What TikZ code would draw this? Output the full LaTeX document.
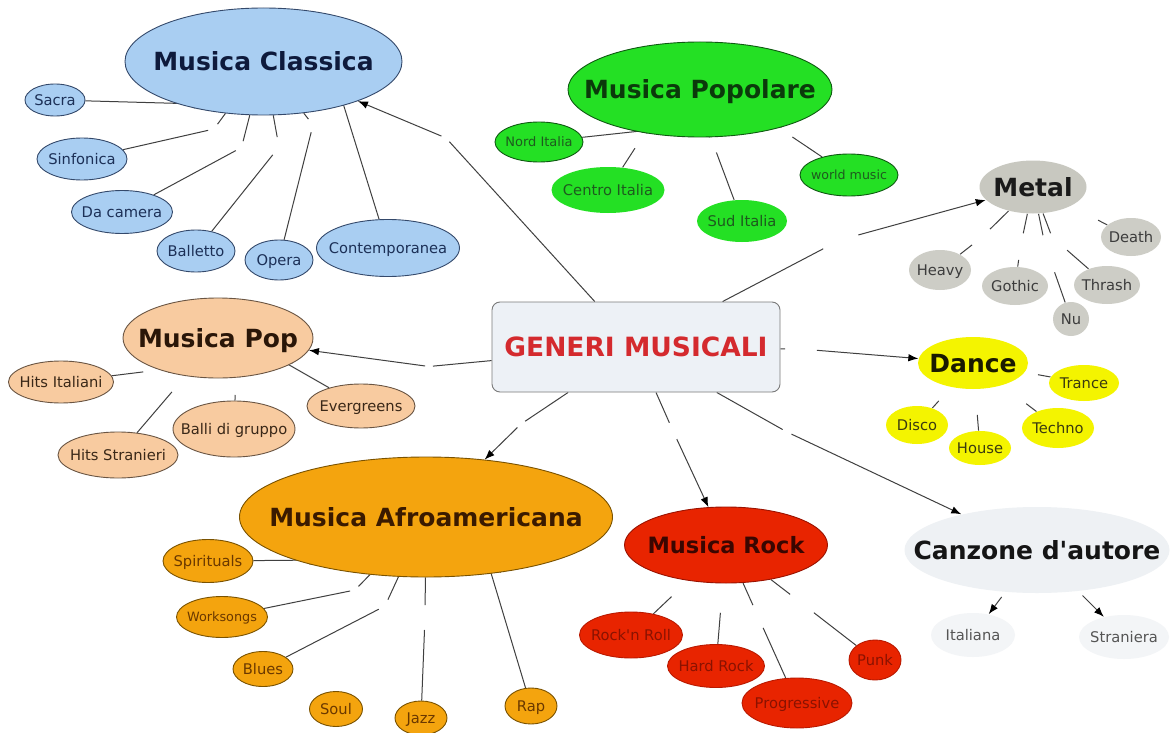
\documentclass[tikz,border=0pt]{standalone}
\usepackage{fontspec}
\setmainfont{DejaVu Sans}[Ligatures=TeXOff]
\usetikzlibrary{shapes.geometric,arrows.meta,backgrounds}

% palette
\definecolor{cBlue}{HTML}{A9CEF2}\definecolor{cBlueLine}{HTML}{34496B}
\definecolor{cBlueTxt}{HTML}{0E1A3C}\definecolor{cBlueSub}{HTML}{1C3057}
\definecolor{cGreen}{HTML}{24E024}\definecolor{cGreenLine}{HTML}{0F5A12}
\definecolor{cGreenTxt}{HTML}{0B3A0B}\definecolor{cGreenSub}{HTML}{1E5A1E}
\definecolor{cGray}{HTML}{C8C8C0}\definecolor{cGraySub}{HTML}{CDCDC6}
\definecolor{cGrayTxt}{HTML}{1A1A1A}\definecolor{cGraySubTxt}{HTML}{3C3C3C}
\definecolor{cYellow}{HTML}{F4F400}\definecolor{cYellowTxt}{HTML}{1A1A00}
\definecolor{cYellowSub}{HTML}{3A3A10}
\definecolor{cPeach}{HTML}{F8CBA0}\definecolor{cPeachLine}{HTML}{6A5543}
\definecolor{cPeachTxt}{HTML}{2A1608}\definecolor{cPeachSub}{HTML}{3A2818}
\definecolor{cOrange}{HTML}{F4A40E}\definecolor{cOrangeLine}{HTML}{7A5200}
\definecolor{cOrangeTxt}{HTML}{3A1A00}\definecolor{cOrangeSub}{HTML}{6A3800}
\definecolor{cRed}{HTML}{E82400}\definecolor{cRedLine}{HTML}{9A1200}
\definecolor{cRedTxt}{HTML}{3A0600}\definecolor{cRedSub}{HTML}{8A1200}
\definecolor{cCanz}{HTML}{EEF1F4}\definecolor{cCanzSub}{HTML}{F3F5F7}
\definecolor{cCanzTxt}{HTML}{151515}\definecolor{cCanzSubTxt}{HTML}{555555}
\definecolor{cBox}{HTML}{EDF1F6}\definecolor{cBoxLine}{HTML}{7A7A7A}
\definecolor{cBoxTxt}{HTML}{D42A2E}
\definecolor{cLink}{HTML}{404040}

% text centred on the node without enlarging it
\newcommand\ct[1]{\makebox[0pt]{\raisebox{-.36em}[0pt][0pt]{#1}}}

% link with an empty linking-phrase gap at coordinate #2
\newcommand\lk[5]{%
  \draw[link, shorten >=#4] (#1) -- (#2);
  \draw[link, shorten <=#5] (#2) -- (#3);}
% same, ending in an arrow head
\newcommand\ak[4]{%
  \draw[link, shorten >=#4] (#1) -- (#2);
  \draw[arr, shorten <=#4] (#2) -- (#3);}

\tikzset{
  sz/.style 2 args={minimum width=#1pt, minimum height=#2pt},
  concept/.style={ellipse, inner sep=0pt, line width=0.9pt},
  head/.style={concept, font=\bfseries\fontsize{25}{30}\selectfont},
  leaf/.style={concept, font=\fontsize{14.7}{17}\selectfont},
  leafB/.style={leaf, fill=cBlue, draw=cBlueLine, text=cBlueSub},
  leafG/.style={leaf, fill=cGreen, text=cGreenSub},
  leafM/.style={leaf, fill=cGraySub, text=cGraySubTxt},
  leafY/.style={leaf, fill=cYellow, text=cYellowSub},
  leafP/.style={leaf, fill=cPeach, draw=cPeachLine, text=cPeachSub},
  leafO/.style={leaf, fill=cOrange, draw=cOrangeLine, text=cOrangeSub},
  leafR/.style={leaf, fill=cRed, draw=cRedLine!60!cRed, text=cRedSub},
  leafC/.style={leaf, fill=cCanzSub, text=cCanzSubTxt},
  link/.style={draw=cLink, line width=1pt},
  arr/.style={link, -{Latex[length=10pt,width=7.5pt,color=black]}},
}

\begin{document}
\begin{tikzpicture}[x=1pt,y=-1pt]
\useasboundingbox (0,0) rectangle (1172,733);

% centre
\node[rectangle, rounded corners=8pt, inner sep=0pt, sz={288}{90}, fill=cBox, draw=cBoxLine,
      line width=0.9pt, text=cBoxTxt, font=\bfseries\fontsize{26.5}{30}\selectfont]
  (gen) at (636,347) {\ct{GENERI MUSICALI}};

% Musica Classica
\node[head, fill=cBlue, draw=cBlueLine, text=cBlueTxt, sz={277}{107}] (cl) at (263.5,61.5) {\ct{Musica Classica}};
\node[leafB, sz={60}{32}]  (sac) at (55,100)  {\ct{Sacra}};
\node[leafB, sz={90}{42}]  (sin) at (82,159)  {\ct{Sinfonica}};
\node[leafB, sz={101}{43}] (dac) at (122,212) {\ct{Da camera}};
\node[leafB, sz={78}{42}]  (bal) at (196,251) {\ct{Balletto}};
\node[leafB, sz={68}{40}]  (ope) at (279,260) {\ct{Opera}};
\node[leafB, sz={143}{57}] (con) at (388,248) {\ct{Contemporanea}};

% Musica Popolare
\node[head, fill=cGreen, draw=cGreenLine, text=cGreenTxt, sz={264}{95}] (pp) at (700,89.5) {\ct{Musica Popolare}};
\node[leafG, draw=cGreenLine, sz={88}{40}, font=\fontsize{13}{15}\selectfont] (nor) at (539,142) {\ct{Nord Italia}};
\node[leafG, sz={113}{46}] (cen) at (608,190) {\ct{Centro Italia}};
\node[leafG, sz={90}{42}]  (sud) at (742,221) {\ct{Sud Italia}};
\node[leafG, draw=cGreenLine, sz={98}{42}, font=\fontsize{12.6}{15}\selectfont] (wor) at (849,175) {\ct{world music}};

% Metal
\node[head, fill=cGray, text=cGrayTxt, sz={107}{53}] (me) at (1033,187) {\ct{Metal}};
\node[leafM, sz={62}{40}] (hea) at (940,270)  {\ct{Heavy}};
\node[leafM, sz={66}{38}] (got) at (1015,286) {\ct{Gothic}};
\node[leafM, sz={36}{34}] (nu)  at (1071,319) {\ct{Nu}};
\node[leafM, sz={66}{38}] (thr) at (1107,285) {\ct{Thrash}};
\node[leafM, sz={60}{38}] (dea) at (1131,237) {\ct{Death}};

% Dance
\node[head, fill=cYellow, text=cYellowTxt, sz={110}{52}] (da) at (973,363) {\ct{Dance}};
\node[leafY, sz={70}{36}] (tra) at (1084,383) {\ct{Trance}};
\node[leafY, sz={62}{38}] (dis) at (917,425)  {\ct{Disco}};
\node[leafY, sz={62}{34}] (hou) at (980,448)  {\ct{House}};
\node[leafY, sz={72}{40}] (tec) at (1058,428) {\ct{Techno}};

% Musica Pop
\node[head, fill=cPeach, draw=cPeachLine, text=cPeachTxt, sz={190}{80}] (po) at (218,338) {\ct{Musica Pop}};
\node[leafP, sz={105}{42}] (hit) at (61,382)  {\ct{Hits Italiani}};
\node[leafP, sz={120}{46}] (his) at (118,455) {\ct{Hits Stranieri}};
\node[leafP, sz={122}{56}] (bdg) at (234,429) {\ct{Balli di gruppo}};
\node[leafP, sz={108}{44}] (eve) at (361,406) {\ct{Evergreens}};

% Musica Afroamericana
\node[head, fill=cOrange, draw=cOrangeLine, text=cOrangeTxt, sz={373}{120}] (af) at (426,517) {\ct{Musica Afroamericana}};
\node[leafO, sz={90}{43}] (spi) at (208,561) {\ct{Spirituals}};
\node[leafO, sz={91}{41}, font=\fontsize{12.8}{15}\selectfont] (wks) at (222,617) {\ct{Worksongs}};
\node[leafO, sz={60}{35}] (blu) at (263,669) {\ct{Blues}};
\node[leafO, sz={53}{35}] (sou) at (336,709) {\ct{Soul}};
\node[leafO, sz={52}{34}] (jaz) at (421,718) {\ct{Jazz}};
\node[leafO, sz={52}{36}] (rap) at (531,706) {\ct{Rap}};

% Musica Rock
\node[head, fill=cRed, draw=cRedLine, text=cRedTxt, sz={203}{76}, font=\bfseries\fontsize{22.5}{27}\selectfont] (ro) at (726,545) {\ct{Musica Rock}};
\node[leafR, sz={103}{46}] (rnr) at (631,635) {\ct{Rock'n Roll}};
\node[leafR, sz={97}{43}]  (hr)  at (716,666) {\ct{Hard Rock}};
\node[leafR, sz={110}{50}] (prg) at (797,703) {\ct{Progressive}};
\node[leafR, sz={52}{40}]  (pun) at (875,660) {\ct{Punk}};

% Canzone d'autore
\node[head, fill=cCanz, text=cCanzTxt, sz={265}{86}] (ca) at (1037,550) {\ct{Canzone d'autore}};
\node[leafC, sz={84}{44}] (ita) at (973,635)  {\ct{Italiana}};
\node[leafC, sz={90}{44}] (str) at (1124,637) {\ct{Straniera}};

% linking-phrase positions (empty phrases leave a gap in the line)
\coordinate (q-g1) at (446,138);   \coordinate (q-g2) at (429,366.5);
\coordinate (q-g3) at (840,240);   \coordinate (q-g4) at (801,349);
\coordinate (q-g5) at (521,424);   \coordinate (q-g6) at (673,431);
\coordinate (q-g7) at (787,432);
\coordinate (q-sac) at (200,104);  \coordinate (q-sin) at (214,129);
\coordinate (q-dac) at (241.5,147.5); \coordinate (q-bal) at (279,147);
\coordinate (q-ope) at (313,125);  \coordinate (q-con) at (342,100);
\coordinate (q-nor) at (650,130);  \coordinate (q-cen) at (648,128);
\coordinate (q-sud) at (708,130);  \coordinate (q-wor) at (770,122);
\coordinate (q-hea) at (981.5,237.5); \coordinate (q-got) at (1020.5,246.5);
\coordinate (q-nu) at (1045,245);  \coordinate (q-thr) at (1052,237);
\coordinate (q-hit) at (175,368);  \coordinate (q-bdg) at (236,370);
\coordinate (q-eve) at (277,358);
\coordinate (q-spi) at (320,560);  \coordinate (q-wks) at (355,590);
\coordinate (q-blu) at (385,606);  \coordinate (q-jaz) at (425,617.5);
\coordinate (q-rap) at (488,563);
\coordinate (q-prg) at (758,616.5); \coordinate (q-pun) at (802,603.5);

\begin{pgfonlayer}{background}
  \fill[white] (0,0) rectangle (1172,733);

  % from the centre to the genres
  \ak{gen}{q-g1}{cl}{5pt}
  \ak{gen}{q-g2}{po}{4pt}
  \ak{gen}{q-g3}{me}{19pt}
  \ak{gen}{q-g4}{da}{16pt}
  \ak{gen}{q-g5}{af}{5pt}
  \ak{gen}{q-g6}{ro}{9pt}
  \ak{gen}{q-g7}{ca}{5pt}

  % Musica Classica
  \lk{cl}{q-sac}{sac}{0pt}{0pt}
  \lk{cl}{q-sin}{sin}{6pt}{6pt}
  \lk{cl}{q-dac}{dac}{6.5pt}{6.5pt}
  \lk{cl}{q-bal}{bal}{10pt}{10pt}
  \lk{cl}{q-ope}{ope}{7.5pt}{7.5pt}
  \lk{cl}{q-con}{con}{0pt}{0pt}

  % Musica Popolare
  \lk{pp}{q-nor}{nor}{0pt}{0pt}
  \lk{pp}{q-cen}{cen}{0pt}{24pt}
  \lk{pp}{q-sud}{sud}{0pt}{24pt}
  \lk{pp}{q-wor}{wor}{0pt}{27pt}

  % Metal
  \lk{me}{q-hea}{hea}{12pt}{12pt}
  \lk{me}{q-got}{got}{13.5pt}{13.5pt}
  \lk{me}{q-nu}{nu}{10pt}{29pt}
  \lk{me}{q-thr}{thr}{4pt}{20pt}
  \draw[link, shorten <=73pt] (me.center) -- (dea);

  % Dance
  \draw[link, shorten <=66pt] (da.center) -- (tra);
  \draw[link, shorten <=51pt] (da.center) -- (dis);
  \draw[link, shorten <=52pt] (da.center) -- (hou);
  \draw[link, shorten <=67pt] (da.center) -- (tec);

  % Musica Pop
  \lk{po}{q-hit}{hit}{0pt}{32pt}
  \draw[link, shorten <=71pt] (po.center) -- (his);
  \lk{po}{q-bdg}{bdg}{0pt}{25pt}
  \lk{po}{q-eve}{eve}{0pt}{0pt}

  % Musica Afroamericana
  \lk{af}{q-spi}{spi}{0pt}{0pt}
  \lk{af}{q-wks}{wks}{5pt}{5pt}
  \lk{af}{q-blu}{blu}{7pt}{7pt}
  \lk{af}{q-jaz}{jaz}{12.5pt}{12.5pt}
  \lk{af}{q-rap}{rap}{0pt}{0pt}

  % Musica Rock
  \draw[link, shorten <=75pt] (ro.center) -- (rnr);
  \draw[link, shorten <=68pt] (ro.center) -- (hr);
  \lk{ro}{q-prg}{prg}{12.5pt}{12.5pt}
  \lk{ro}{q-pun}{pun}{15pt}{15pt}

  % Canzone d'autore
  \draw[arr, shorten <=6pt] (ca) -- (ita);
  \draw[arr, shorten <=6pt] (ca) -- (str);
\end{pgfonlayer}
\end{tikzpicture}
\end{document}
